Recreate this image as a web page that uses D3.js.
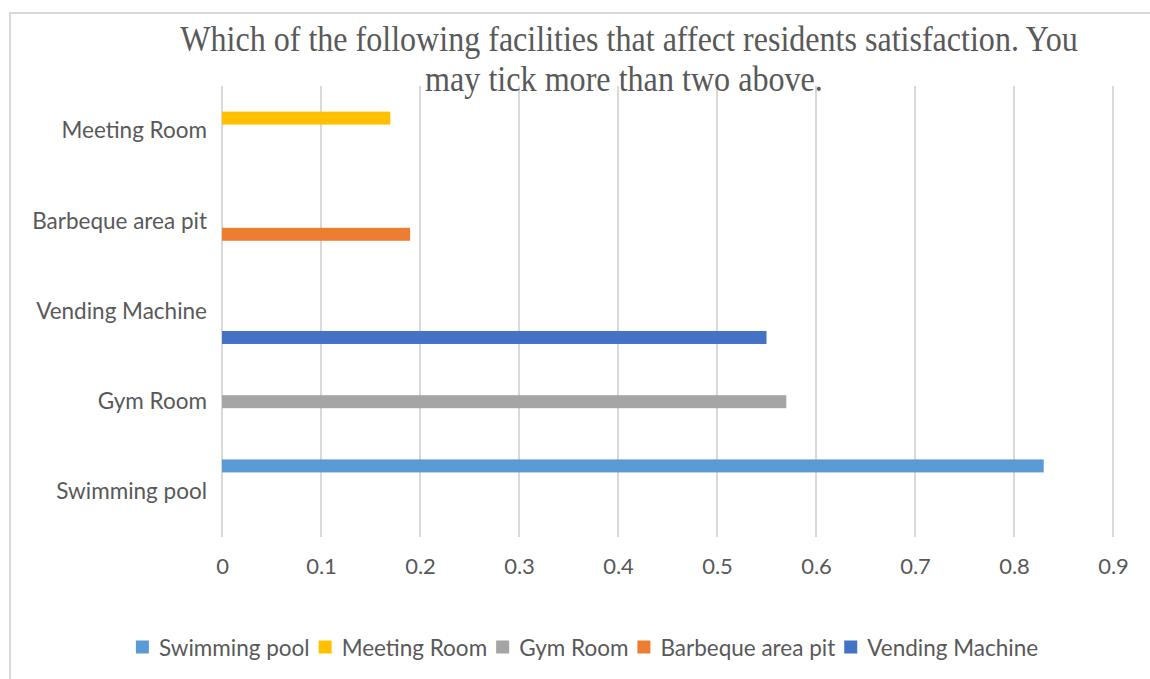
<!DOCTYPE html>
<html>
<head>
<meta charset="utf-8">
<script src="https://cdn.jsdelivr.net/npm/d3@7/dist/d3.min.js"></script>
<style>
  html, body { margin: 0; padding: 0; background: #fff; }
  svg { display: block; }
</style>
</head>
<body>
<svg id="chart" width="1150" height="679"></svg>
<script>
// Categories, listed from the bottom of the chart to the top
const categories = ["Swimming pool", "Gym Room", "Vending Machine", "Barbeque area pit", "Meeting Room"];
// Series in legend order; each series has a single value in its own category
const seriesNames = ["Swimming pool", "Meeting Room", "Gym Room", "Barbeque area pit", "Vending Machine"];
const seriesValues = [0.83, 0.17, 0.57, 0.19, 0.55];
const seriesColors = ["#5B9BD5", "#FFC000", "#A5A5A5", "#ED7D31", "#4472C4"];
const xTicks = [0, 0.1, 0.2, 0.3, 0.4, 0.5, 0.6, 0.7, 0.8, 0.9];
const titleLines = [
  "Which of the following facilities that affect residents satisfaction. You",
  "may tick more than two above."
];

const svg = d3.select("#chart");
const textColor = "#595959";
const gridColor = "#D9D9D9";
const labelFont = "Lato, 'Open Sans', sans-serif";

// Chart frame
svg.append("rect")
  .attr("x", 10).attr("y", 13)
  .attr("width", 1200).attr("height", 700)
  .attr("fill", "#fff")
  .attr("stroke", gridColor)
  .attr("stroke-width", 2);

const plot = { left: 222, right: 1113, top: 86, bottom: 537 };

const x = d3.scaleLinear().domain([0, 0.9]).range([plot.left, plot.right]);
const y = d3.scaleBand().domain(categories)
  .range([plot.bottom, plot.top])
  .paddingInner(0.28).paddingOuter(0.14);
const ySeries = d3.scaleBand().domain(seriesNames).range([0, y.bandwidth()]);

// Vertical gridlines
svg.append("g").selectAll("line").data(xTicks).join("line")
  .attr("x1", d => x(d)).attr("x2", d => x(d))
  .attr("y1", plot.top).attr("y2", plot.bottom)
  .attr("stroke", gridColor).attr("stroke-width", 2);

// Bars: one cluster per category, only non-zero values drawn
const barData = [];
seriesNames.forEach((s, i) => {
  categories.forEach(c => {
    const v = c === s ? seriesValues[i] : 0;
    if (v > 0) barData.push({ series: s, category: c, value: v, color: seriesColors[i] });
  });
});

svg.append("g").selectAll("rect").data(barData).join("rect")
  .attr("x", x(0))
  .attr("y", d => y(d.category) + ySeries(d.series))
  .attr("width", d => x(d.value) - x(0))
  .attr("height", ySeries.bandwidth())
  .attr("fill", d => d.color);

// X axis tick labels
const xAxis = d3.axisBottom(x).tickValues(xTicks).tickSize(0).tickPadding(0)
  .tickFormat(d => d === 0 ? "0" : d3.format(".1f")(d));
const xg = svg.append("g").attr("transform", `translate(0,${plot.bottom})`).call(xAxis);
xg.select(".domain").remove();
xg.selectAll("text")
  .attr("y", 37)
  .attr("dy", 0)
  .attr("fill", textColor)
  .style("font-family", labelFont)
  .style("font-size", "22px");

// Category labels
const yAxis = d3.axisLeft(y).tickSize(0).tickPadding(15);
const yg = svg.append("g").attr("transform", `translate(${plot.left},0)`).call(yAxis);
yg.select(".domain").remove();
yg.selectAll("text")
  .attr("fill", textColor)
  .style("font-family", labelFont)
  .style("font-size", "22.5px");

// Title: tall serif lines, squeezed horizontally to a set width
const titleWidths = [898, 398];
const titleCenters = [629, 624];
svg.append("g").selectAll("text").data(titleLines).join("text")
  .attr("x", 0).attr("y", 0)
  .attr("text-anchor", "middle")
  .attr("fill", textColor)
  .style("font-family", "'Liberation Serif', 'Times New Roman', serif")
  .style("font-size", "35px")
  .text(d => d)
  .each(function (d, i) {
    const natural = this.getComputedTextLength();
    const sx = titleWidths[i] / natural;
    d3.select(this).attr("transform", `translate(${titleCenters[i]},${51 + i * 40}) scale(${sx},1)`);
  });

// Legend
const legend = svg.append("g");
const sw = 13, gapAfterSwatch = 10, gapBetween = 9;
let cursor = 0;
seriesNames.forEach((s, i) => {
  const item = legend.append("g").attr("transform", `translate(${cursor},0)`);
  item.append("rect").attr("x", 0).attr("y", -sw / 2 - 1).attr("width", sw).attr("height", sw)
    .attr("fill", seriesColors[i]);
  const t = item.append("text")
    .attr("x", sw + gapAfterSwatch).attr("y", 0).attr("dy", "0.35em")
    .attr("fill", textColor)
    .style("font-family", labelFont)
    .style("font-size", "22.5px")
    .text(s);
  cursor += sw + gapAfterSwatch + t.node().getComputedTextLength() + gapBetween;
});
const legendWidth = cursor - gapBetween;
legend.attr("transform", `translate(${587 - legendWidth / 2},648)`);
</script>
</body>
</html>
